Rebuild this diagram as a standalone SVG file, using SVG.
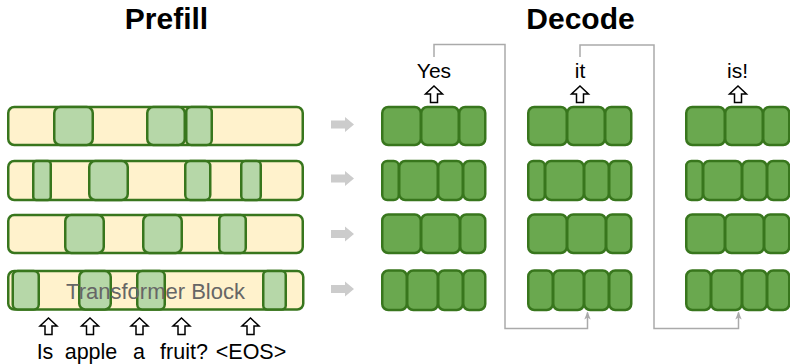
<svg xmlns="http://www.w3.org/2000/svg" xmlns:xlink="http://www.w3.org/1999/xlink" width="790" height="364" viewBox="0 0 790 364">
  <style>
    .title { font-family: "Liberation Sans", Arial, sans-serif; font-weight: bold; font-size: 30px; fill: #000; text-anchor: middle; }
    .word { font-family: "Liberation Sans", Arial, sans-serif; font-size: 21.5px; fill: #000; text-anchor: middle; }
    .tok { font-family: "Liberation Sans", Arial, sans-serif; font-size: 21px; fill: #000; text-anchor: middle; }
    .label { font-family: "Liberation Sans", Arial, sans-serif; font-size: 22px; fill: #666; text-anchor: middle; }
    .bar { fill: #fff2cc; stroke: #38761d; stroke-width: 2.5; }
    .seg { fill: #b6d7a8; stroke: #38761d; stroke-width: 2.5; }
    .cell { fill: #6aa84f; stroke: #38761d; stroke-width: 2.5; }
    .up { fill: #fff; stroke: #000; stroke-width: 1.5; stroke-linejoin: miter; }
    .flow { fill: #cccccc; }
    .loop { fill: none; stroke: #aaaaaa; stroke-width: 1.5; }
  </style>
  <defs>
    <!-- hollow block arrow pointing up, tip at (0,0) -->
    <path id="up-arrow" class="up" d="M0,0 L8.5,8 L3.5,8 L3.5,16.5 L-3.5,16.5 L-3.5,8 L-8.5,8 Z"/>
    <!-- grey block arrow pointing right, centred on y=0 -->
    <path id="flow-arrow" class="flow" d="M331,-4 H345 V-7.5 L354,0 L345,7.5 V4 H331 Z"/>
    <marker id="loop-head" viewBox="0 0 8 8" refX="7" refY="4" markerWidth="8" markerHeight="8" markerUnits="userSpaceOnUse" orient="auto">
      <path d="M0,0.8 L8,4 L0,7.2 L2,4 Z" fill="#aaaaaa"/>
    </marker>
    <!-- one decode step: four layers of active blocks -->
    <g id="decode-stack">
      <rect class="cell" x="382.25" y="107" width="38.5" height="38" rx="6"/>
      <rect class="cell" x="421.25" y="107" width="37.5" height="38" rx="6"/>
      <rect class="cell" x="459.25" y="107" width="26" height="38" rx="6"/>

      <rect class="cell" x="382.25" y="161" width="16.5" height="39" rx="5"/>
      <rect class="cell" x="399.25" y="161" width="38.5" height="39" rx="6"/>
      <rect class="cell" x="438.25" y="161" width="24.5" height="39" rx="6"/>
      <rect class="cell" x="463.25" y="161" width="22" height="39" rx="6"/>

      <rect class="cell" x="382.25" y="214.5" width="38.5" height="38.5" rx="6"/>
      <rect class="cell" x="421.25" y="214.5" width="38.5" height="38.5" rx="6"/>
      <rect class="cell" x="460.25" y="214.5" width="25" height="38.5" rx="6"/>

      <rect class="cell" x="382.25" y="270.5" width="24.5" height="39.5" rx="6"/>
      <rect class="cell" x="407.25" y="270.5" width="30.5" height="39.5" rx="6"/>
      <rect class="cell" x="438.25" y="270.5" width="24.5" height="39.5" rx="6"/>
      <rect class="cell" x="463.25" y="270.5" width="22" height="39.5" rx="6"/>
    </g>
  </defs>

  <text class="title" x="166.5" y="29">Prefill</text>
  <text class="title" x="580.5" y="29">Decode</text>

  <!-- prefill: transformer layers with active blocks -->
  <g id="prefill-layer-1">
    <rect class="bar" x="8.25" y="107" width="294.5" height="38" rx="6"/>
    <rect class="seg" x="54.25" y="107" width="38.5" height="38" rx="6"/>
    <rect class="seg" x="147.25" y="107" width="37.5" height="38" rx="6"/>
    <rect class="seg" x="186.25" y="107" width="25.5" height="38" rx="5"/>
  </g>
  <g id="prefill-layer-2">
    <rect class="bar" x="8.25" y="161" width="294.5" height="39" rx="6"/>
    <rect class="seg" x="33.25" y="161" width="17.5" height="39" rx="3"/>
    <rect class="seg" x="89.25" y="161" width="38.5" height="39" rx="6"/>
    <rect class="seg" x="185.25" y="161" width="25" height="39" rx="5"/>
    <rect class="seg" x="241.25" y="161" width="19.5" height="39" rx="4"/>
  </g>
  <g id="prefill-layer-3">
    <rect class="bar" x="8.25" y="215" width="294.5" height="38" rx="6"/>
    <rect class="seg" x="65.25" y="215" width="38.5" height="38" rx="6"/>
    <rect class="seg" x="143.25" y="215" width="38.5" height="38" rx="6"/>
    <rect class="seg" x="219.25" y="215" width="26.5" height="38" rx="5"/>
  </g>
  <g id="prefill-layer-4">
    <rect class="bar" x="8.25" y="271" width="295" height="38.5" rx="6"/>
    <rect class="seg" x="12.75" y="271" width="26" height="38.5" rx="5"/>
    <rect class="seg" x="79.25" y="271" width="31.5" height="38.5" rx="6"/>
    <rect class="seg" x="137.25" y="271" width="27.5" height="38.5" rx="5"/>
    <rect class="seg" x="263.25" y="271" width="22.5" height="38.5" rx="4"/>
    <text class="label" x="155.5" y="299">Transformer Block</text>
  </g>

  <!-- prompt tokens -->
  <g id="prompt">
    <use xlink:href="#up-arrow" x="48.5" y="318"/>
    <use xlink:href="#up-arrow" x="90" y="318"/>
    <use xlink:href="#up-arrow" x="139.5" y="318"/>
    <use xlink:href="#up-arrow" x="181.5" y="318"/>
    <use xlink:href="#up-arrow" x="250.5" y="318"/>
    <text class="word" x="45" y="358.5">Is</text>
    <text class="word" x="91" y="358.5">apple</text>
    <text class="word" x="139" y="358.5">a</text>
    <text class="word" x="184" y="358.5">fruit?</text>
    <text class="word" x="251" y="358.5">&lt;EOS&gt;</text>
  </g>

  <!-- decode steps -->
  <g id="decode-step-1">
    <use xlink:href="#decode-stack"/>
    <use xlink:href="#up-arrow" x="434" y="86"/>
    <text class="tok" x="434" y="78">Yes</text>
  </g>
  <g id="decode-step-2">
    <use xlink:href="#decode-stack" x="146"/>
    <use xlink:href="#up-arrow" x="580" y="86"/>
    <text class="tok" x="580" y="78">it</text>
  </g>
  <g id="decode-step-3">
    <use xlink:href="#decode-stack" x="304"/>
    <use xlink:href="#up-arrow" x="738" y="86"/>
    <text class="tok" x="737.5" y="78">is!</text>
  </g>

  <g id="connectors">
    <use xlink:href="#flow-arrow" y="124.5"/>
    <use xlink:href="#flow-arrow" y="178.5"/>
    <use xlink:href="#flow-arrow" y="234"/>
    <use xlink:href="#flow-arrow" y="289"/>
    <path class="loop" d="M434,57 V44.5 H505 V328.5 H587.5 V312.5" marker-end="url(#loop-head)"/>
    <path class="loop" d="M580,57 V45 H654 V328.5 H738.5 V312.5" marker-end="url(#loop-head)"/>
  </g>
</svg>
